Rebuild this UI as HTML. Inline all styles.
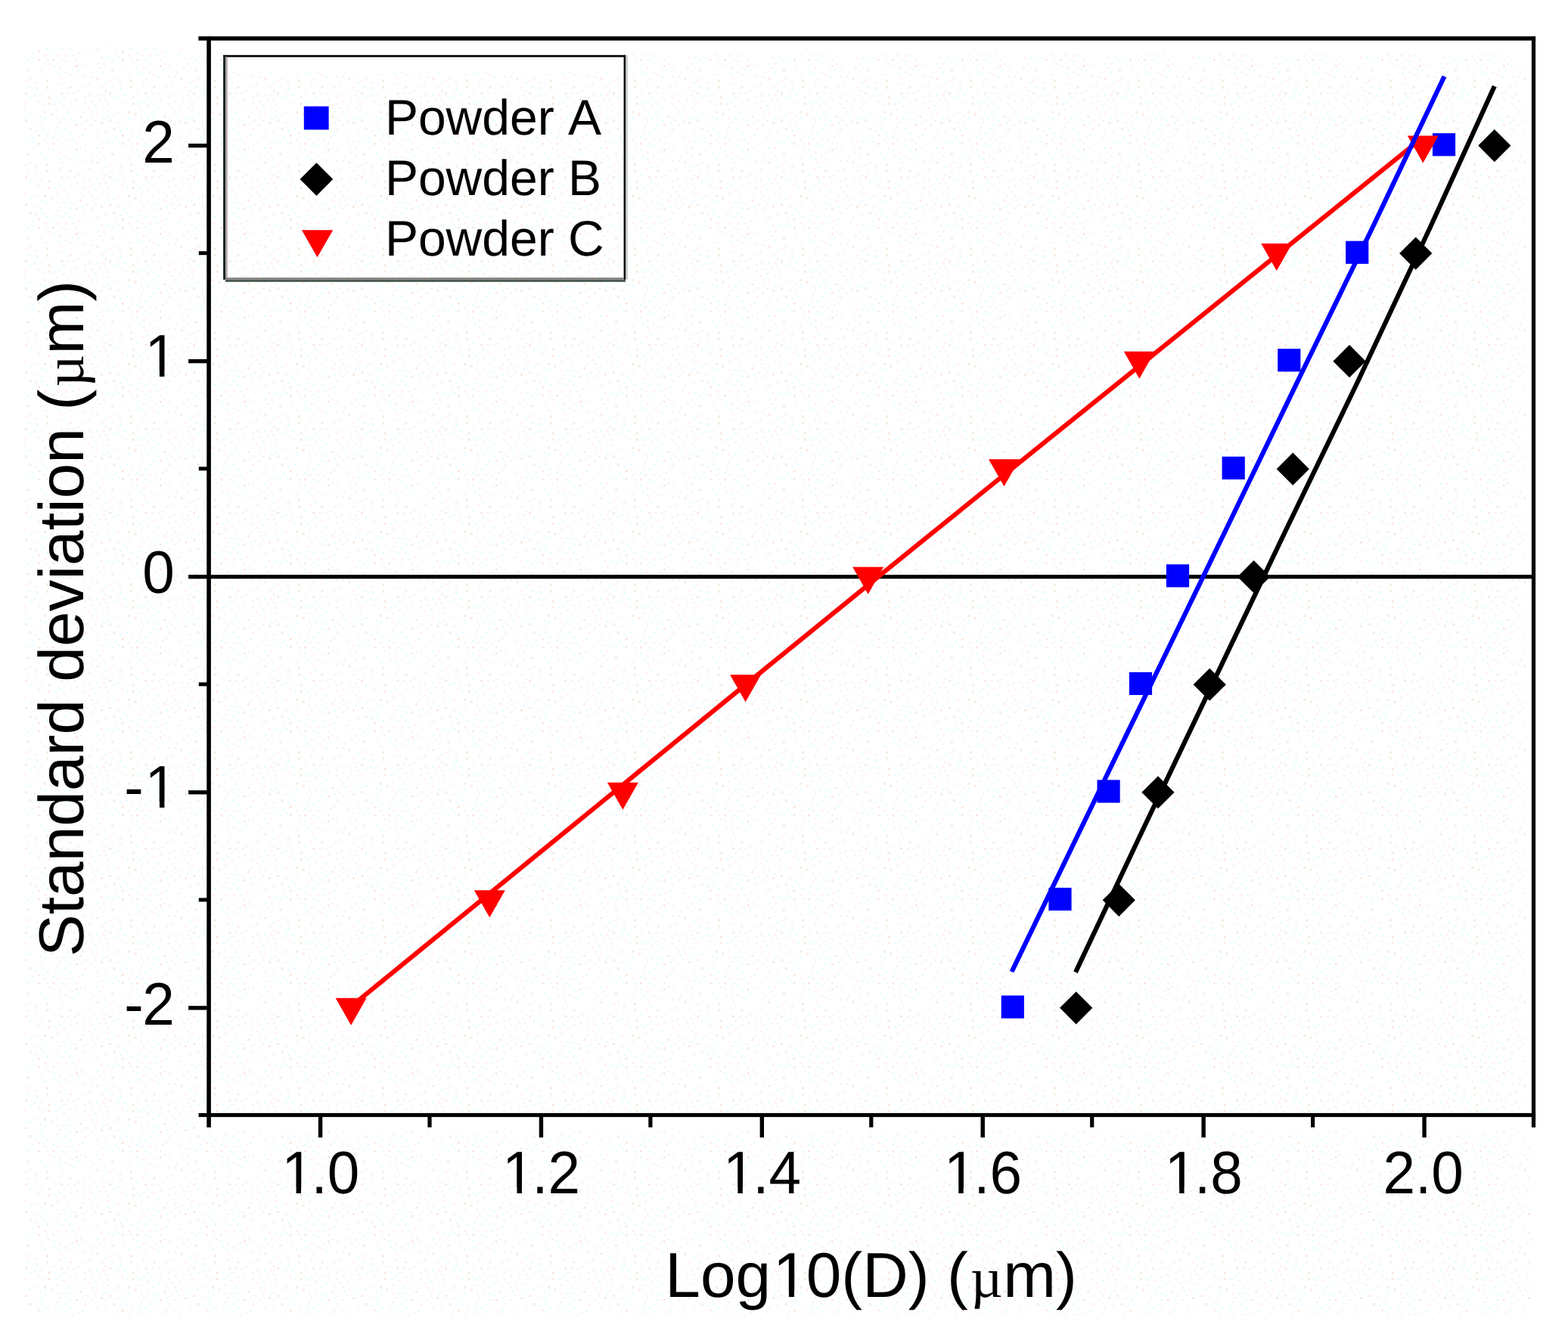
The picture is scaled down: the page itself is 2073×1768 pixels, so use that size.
<!DOCTYPE html>
<html lang="en"><head><meta charset="utf-8"><title>Standard deviation vs Log10(D)</title>
<style>
html,body{margin:0;padding:0;background:#fff;}
body{width:2073px;height:1768px;overflow:hidden;}
svg{display:block;}
text{font-family:"Liberation Sans",sans-serif;fill:#000;font-kerning:none;text-rendering:geometricPrecision;}
.tk{font-size:76.5px;}
.ti{font-size:83.8px;}
.lg{font-size:66px;}
.mu{font-family:"Liberation Serif",serif;font-size:74px;}
</style></head><body>
<svg width="2073" height="1768" viewBox="0 0 2073 1768" role="img">
<desc>Standard deviation (μm) versus Log10(D) (μm) for Powder A, Powder B and Powder C</desc>
<defs><pattern id="d" width="111" height="111" patternUnits="userSpaceOnUse">
<rect x="0.00" y="16.65" width="2.77" height="2.77" fill="#fcf0f8"/>
<rect x="0.00" y="24.97" width="2.77" height="2.77" fill="#fcf0f8"/>
<rect x="0.00" y="58.27" width="2.77" height="2.77" fill="#fcf0f8"/>
<rect x="0.00" y="86.02" width="2.77" height="2.77" fill="#e7fdfd"/>
<rect x="0.00" y="99.90" width="2.77" height="2.77" fill="#fcf0f8"/>
<rect x="2.77" y="47.17" width="2.77" height="2.77" fill="#fcf0f8"/>
<rect x="5.55" y="0.00" width="2.77" height="2.77" fill="#fcf0f8"/>
<rect x="5.55" y="13.88" width="2.77" height="2.77" fill="#fcf0f8"/>
<rect x="5.55" y="30.52" width="2.77" height="2.77" fill="#fcf0f8"/>
<rect x="8.32" y="22.20" width="2.77" height="2.77" fill="#fcf0f8"/>
<rect x="8.32" y="36.07" width="2.77" height="2.77" fill="#fcf0f8"/>
<rect x="8.32" y="52.73" width="2.77" height="2.77" fill="#fcf0f8"/>
<rect x="8.32" y="99.90" width="2.77" height="2.77" fill="#fcf0f8"/>
<rect x="11.10" y="41.62" width="2.77" height="2.77" fill="#e7fdfd"/>
<rect x="11.10" y="94.35" width="2.77" height="2.77" fill="#fcf0f8"/>
<rect x="13.88" y="27.75" width="2.77" height="2.77" fill="#e7fdfd"/>
<rect x="13.88" y="47.17" width="2.77" height="2.77" fill="#fcf0f8"/>
<rect x="13.88" y="69.38" width="2.77" height="2.77" fill="#e7fdfd"/>
<rect x="16.65" y="13.88" width="2.77" height="2.77" fill="#e7fdfd"/>
<rect x="16.65" y="38.85" width="2.77" height="2.77" fill="#fcf0f8"/>
<rect x="16.65" y="63.82" width="2.77" height="2.77" fill="#fcf0f8"/>
<rect x="16.65" y="83.25" width="2.77" height="2.77" fill="#e7fdfd"/>
<rect x="16.65" y="102.67" width="2.77" height="2.77" fill="#f5e9dd"/>
<rect x="19.43" y="19.43" width="2.77" height="2.77" fill="#fcf0f8"/>
<rect x="19.43" y="88.80" width="2.77" height="2.77" fill="#fcf0f8"/>
<rect x="22.20" y="2.77" width="2.77" height="2.77" fill="#fcf0f8"/>
<rect x="22.20" y="49.95" width="2.77" height="2.77" fill="#f5e9dd"/>
<rect x="22.20" y="74.92" width="2.77" height="2.77" fill="#fcf0f8"/>
<rect x="24.97" y="13.88" width="2.77" height="2.77" fill="#fcf0f8"/>
<rect x="24.97" y="30.52" width="2.77" height="2.77" fill="#e7fdfd"/>
<rect x="24.97" y="44.40" width="2.77" height="2.77" fill="#e7fdfd"/>
<rect x="24.97" y="83.25" width="2.77" height="2.77" fill="#fcf0f8"/>
<rect x="24.97" y="94.35" width="2.77" height="2.77" fill="#e7fdfd"/>
<rect x="27.75" y="8.32" width="2.77" height="2.77" fill="#fcf0f8"/>
<rect x="27.75" y="19.43" width="2.77" height="2.77" fill="#fcf0f8"/>
<rect x="27.75" y="61.05" width="2.77" height="2.77" fill="#fcf0f8"/>
<rect x="27.75" y="108.22" width="2.77" height="2.77" fill="#e7fdfd"/>
<rect x="30.52" y="24.97" width="2.77" height="2.77" fill="#fcf0f8"/>
<rect x="30.52" y="33.30" width="2.77" height="2.77" fill="#fcf0f8"/>
<rect x="30.52" y="41.62" width="2.77" height="2.77" fill="#e7fdfd"/>
<rect x="30.52" y="74.92" width="2.77" height="2.77" fill="#e7fdfd"/>
<rect x="33.30" y="11.10" width="2.77" height="2.77" fill="#f5e9dd"/>
<rect x="33.30" y="47.17" width="2.77" height="2.77" fill="#f5e9dd"/>
<rect x="33.30" y="105.45" width="2.77" height="2.77" fill="#fcf0f8"/>
<rect x="36.07" y="2.77" width="2.77" height="2.77" fill="#e7fdfd"/>
<rect x="36.07" y="77.70" width="2.77" height="2.77" fill="#e7fdfd"/>
<rect x="36.07" y="91.58" width="2.77" height="2.77" fill="#f5e9dd"/>
<rect x="38.85" y="16.65" width="2.77" height="2.77" fill="#e7fdfd"/>
<rect x="38.85" y="38.85" width="2.77" height="2.77" fill="#e7fdfd"/>
<rect x="38.85" y="58.27" width="2.77" height="2.77" fill="#f5e9dd"/>
<rect x="38.85" y="102.67" width="2.77" height="2.77" fill="#fcf0f8"/>
<rect x="41.62" y="69.38" width="2.77" height="2.77" fill="#e7fdfd"/>
<rect x="44.40" y="13.88" width="2.77" height="2.77" fill="#e7fdfd"/>
<rect x="44.40" y="36.07" width="2.77" height="2.77" fill="#fcf0f8"/>
<rect x="44.40" y="49.95" width="2.77" height="2.77" fill="#fcf0f8"/>
<rect x="44.40" y="74.92" width="2.77" height="2.77" fill="#e7fdfd"/>
<rect x="47.17" y="5.55" width="2.77" height="2.77" fill="#e7fdfd"/>
<rect x="47.17" y="61.05" width="2.77" height="2.77" fill="#e7fdfd"/>
<rect x="47.17" y="108.22" width="2.77" height="2.77" fill="#fcf0f8"/>
<rect x="49.95" y="22.20" width="2.77" height="2.77" fill="#fcf0f8"/>
<rect x="49.95" y="66.60" width="2.77" height="2.77" fill="#f5e9dd"/>
<rect x="49.95" y="77.70" width="2.77" height="2.77" fill="#f5e9dd"/>
<rect x="52.73" y="13.88" width="2.77" height="2.77" fill="#e7fdfd"/>
<rect x="52.73" y="41.62" width="2.77" height="2.77" fill="#e7fdfd"/>
<rect x="52.73" y="52.73" width="2.77" height="2.77" fill="#e7fdfd"/>
<rect x="52.73" y="91.58" width="2.77" height="2.77" fill="#e7fdfd"/>
<rect x="55.50" y="24.97" width="2.77" height="2.77" fill="#e7fdfd"/>
<rect x="55.50" y="58.27" width="2.77" height="2.77" fill="#e7fdfd"/>
<rect x="58.27" y="36.07" width="2.77" height="2.77" fill="#f5e9dd"/>
<rect x="58.27" y="44.40" width="2.77" height="2.77" fill="#e7fdfd"/>
<rect x="58.27" y="72.15" width="2.77" height="2.77" fill="#fcf0f8"/>
<rect x="58.27" y="97.12" width="2.77" height="2.77" fill="#e7fdfd"/>
<rect x="61.05" y="2.77" width="2.77" height="2.77" fill="#f5e9dd"/>
<rect x="61.05" y="63.82" width="2.77" height="2.77" fill="#e7fdfd"/>
<rect x="61.05" y="77.70" width="2.77" height="2.77" fill="#e7fdfd"/>
<rect x="61.05" y="105.45" width="2.77" height="2.77" fill="#f5e9dd"/>
<rect x="63.82" y="16.65" width="2.77" height="2.77" fill="#f5e9dd"/>
<rect x="63.82" y="24.97" width="2.77" height="2.77" fill="#f5e9dd"/>
<rect x="63.82" y="83.25" width="2.77" height="2.77" fill="#fcf0f8"/>
<rect x="66.60" y="38.85" width="2.77" height="2.77" fill="#f5e9dd"/>
<rect x="69.38" y="8.32" width="2.77" height="2.77" fill="#e7fdfd"/>
<rect x="69.38" y="69.38" width="2.77" height="2.77" fill="#e7fdfd"/>
<rect x="69.38" y="77.70" width="2.77" height="2.77" fill="#f5e9dd"/>
<rect x="69.38" y="86.02" width="2.77" height="2.77" fill="#e7fdfd"/>
<rect x="72.15" y="24.97" width="2.77" height="2.77" fill="#e7fdfd"/>
<rect x="72.15" y="61.05" width="2.77" height="2.77" fill="#e7fdfd"/>
<rect x="72.15" y="94.35" width="2.77" height="2.77" fill="#e7fdfd"/>
<rect x="74.92" y="33.30" width="2.77" height="2.77" fill="#fcf0f8"/>
<rect x="74.92" y="44.40" width="2.77" height="2.77" fill="#fcf0f8"/>
<rect x="74.92" y="55.50" width="2.77" height="2.77" fill="#fcf0f8"/>
<rect x="74.92" y="72.15" width="2.77" height="2.77" fill="#fcf0f8"/>
<rect x="77.70" y="0.00" width="2.77" height="2.77" fill="#fcf0f8"/>
<rect x="77.70" y="22.20" width="2.77" height="2.77" fill="#e7fdfd"/>
<rect x="77.70" y="49.95" width="2.77" height="2.77" fill="#fcf0f8"/>
<rect x="77.70" y="88.80" width="2.77" height="2.77" fill="#fcf0f8"/>
<rect x="77.70" y="97.12" width="2.77" height="2.77" fill="#e7fdfd"/>
<rect x="80.47" y="11.10" width="2.77" height="2.77" fill="#f5e9dd"/>
<rect x="80.47" y="63.82" width="2.77" height="2.77" fill="#e7fdfd"/>
<rect x="80.47" y="77.70" width="2.77" height="2.77" fill="#e7fdfd"/>
<rect x="80.47" y="102.67" width="2.77" height="2.77" fill="#fcf0f8"/>
<rect x="83.25" y="16.65" width="2.77" height="2.77" fill="#e7fdfd"/>
<rect x="83.25" y="27.75" width="2.77" height="2.77" fill="#fcf0f8"/>
<rect x="83.25" y="44.40" width="2.77" height="2.77" fill="#e7fdfd"/>
<rect x="83.25" y="108.22" width="2.77" height="2.77" fill="#e7fdfd"/>
<rect x="86.02" y="58.27" width="2.77" height="2.77" fill="#e7fdfd"/>
<rect x="86.02" y="72.15" width="2.77" height="2.77" fill="#fcf0f8"/>
<rect x="86.02" y="80.47" width="2.77" height="2.77" fill="#e7fdfd"/>
<rect x="86.02" y="94.35" width="2.77" height="2.77" fill="#fcf0f8"/>
<rect x="88.80" y="11.10" width="2.77" height="2.77" fill="#fcf0f8"/>
<rect x="88.80" y="36.07" width="2.77" height="2.77" fill="#e7fdfd"/>
<rect x="91.58" y="2.77" width="2.77" height="2.77" fill="#f5e9dd"/>
<rect x="91.58" y="22.20" width="2.77" height="2.77" fill="#fcf0f8"/>
<rect x="91.58" y="44.40" width="2.77" height="2.77" fill="#e7fdfd"/>
<rect x="91.58" y="52.73" width="2.77" height="2.77" fill="#e7fdfd"/>
<rect x="91.58" y="63.82" width="2.77" height="2.77" fill="#e7fdfd"/>
<rect x="91.58" y="97.12" width="2.77" height="2.77" fill="#fcf0f8"/>
<rect x="94.35" y="72.15" width="2.77" height="2.77" fill="#e7fdfd"/>
<rect x="94.35" y="88.80" width="2.77" height="2.77" fill="#e7fdfd"/>
<rect x="97.12" y="11.10" width="2.77" height="2.77" fill="#fcf0f8"/>
<rect x="97.12" y="30.52" width="2.77" height="2.77" fill="#e7fdfd"/>
<rect x="97.12" y="47.17" width="2.77" height="2.77" fill="#e7fdfd"/>
<rect x="97.12" y="99.90" width="2.77" height="2.77" fill="#e7fdfd"/>
<rect x="99.90" y="19.43" width="2.77" height="2.77" fill="#fcf0f8"/>
<rect x="99.90" y="52.73" width="2.77" height="2.77" fill="#f5e9dd"/>
<rect x="99.90" y="77.70" width="2.77" height="2.77" fill="#fcf0f8"/>
<rect x="99.90" y="86.02" width="2.77" height="2.77" fill="#f5e9dd"/>
<rect x="102.67" y="8.32" width="2.77" height="2.77" fill="#fcf0f8"/>
<rect x="102.67" y="69.38" width="2.77" height="2.77" fill="#fcf0f8"/>
<rect x="102.67" y="91.58" width="2.77" height="2.77" fill="#e7fdfd"/>
<rect x="105.45" y="41.62" width="2.77" height="2.77" fill="#f5e9dd"/>
<rect x="105.45" y="83.25" width="2.77" height="2.77" fill="#fcf0f8"/>
<rect x="108.22" y="2.77" width="2.77" height="2.77" fill="#fcf0f8"/>
<rect x="108.22" y="36.07" width="2.77" height="2.77" fill="#e7fdfd"/>
<rect x="108.22" y="49.95" width="2.77" height="2.77" fill="#e7fdfd"/>
<rect x="108.22" y="66.60" width="2.77" height="2.77" fill="#e7fdfd"/>
</pattern></defs>
<rect x="0" y="0" width="2073" height="1768" fill="#fff"/>
<rect x="32" y="62" width="230" height="1677" fill="url(#d)"/>
<rect x="262" y="72" width="1755" height="1667" fill="url(#d)"/>
<rect x="2017" y="1497" width="8" height="242" fill="url(#d)"/>
<rect x="262" y="1477" width="1768" height="19.5" fill="#fff"/>
<rect x="300.8" y="75.4" width="524" height="18.6" fill="#fff"/>
<g fill="#000">
<rect x="262.40" y="48.10" width="1767.70" height="5.50"/>
<rect x="262.60" y="1471.90" width="1767.50" height="5.20"/>
<rect x="273.30" y="48.10" width="5.60" height="1442.70"/>
<rect x="2024.90" y="48.10" width="5.20" height="1442.70"/>
<rect x="276.00" y="760.10" width="1751.00" height="5.20"/>
<rect x="249.1" y="189.91" width="27" height="5.3"/>
<rect x="249.1" y="474.98" width="27" height="5.3"/>
<rect x="249.1" y="760.05" width="27" height="5.3"/>
<rect x="249.1" y="1045.12" width="27" height="5.3"/>
<rect x="249.1" y="1330.19" width="27" height="5.3"/>
<rect x="262.8" y="332.20" width="13" height="5"/>
<rect x="262.8" y="617.27" width="13" height="5"/>
<rect x="262.8" y="902.34" width="13" height="5"/>
<rect x="262.8" y="1187.40" width="13" height="5"/>
<rect x="420.85" y="1474" width="5.4" height="30.2"/>
<rect x="565.40" y="1474" width="5.2" height="16.7"/>
<rect x="712.75" y="1474" width="5.4" height="30.2"/>
<rect x="857.30" y="1474" width="5.2" height="16.7"/>
<rect x="1004.65" y="1474" width="5.4" height="30.2"/>
<rect x="1149.20" y="1474" width="5.2" height="16.7"/>
<rect x="1296.55" y="1474" width="5.4" height="30.2"/>
<rect x="1441.10" y="1474" width="5.2" height="16.7"/>
<rect x="1588.45" y="1474" width="5.4" height="30.2"/>
<rect x="1733.00" y="1474" width="5.2" height="16.7"/>
<rect x="1880.35" y="1474" width="5.4" height="30.2"/>
</g>
<defs>
<clipPath id="f0" clipPathUnits="userSpaceOnUse"><path clip-rule="evenodd" d="M-900,-300H1500V300H-900ZM7.63,-7.32H22.69V3.00H7.63ZM29.15,-7.32H43.61V3.00H29.15Z"/></clipPath>
<clipPath id="f1" clipPathUnits="userSpaceOnUse"><path clip-rule="evenodd" d="M-900,-300H1500V300H-900ZM33.10,-7.32H48.16V3.00H33.10ZM54.62,-7.32H69.09V3.00H54.62Z"/></clipPath>
<clipPath id="f2" clipPathUnits="userSpaceOnUse"><path clip-rule="evenodd" d="M-900,-300H1500V300H-900ZM147.30,-7.86H163.64V3.00H147.30ZM170.75,-7.86H186.43V3.00H170.75Z"/></clipPath>
</defs>
<text class="tk" transform="translate(188.25,214.66) scale(1,1.04)">2</text>
<text class="tk" clip-path="url(#f0)" transform="translate(188.25,498.03) scale(1,1.04)" dx="3.3">1</text>
<text class="tk" transform="translate(188.25,783.60) scale(1,1.04)">0</text>
<text class="tk" clip-path="url(#f1)" transform="translate(162.78,1068.07) scale(1,1.04)" dx="1.5 1.8">-1</text>
<text class="tk" transform="translate(162.78,1354.54) scale(1,1.04)" dx="1.5 -1.5">-2</text>
<text class="tk" clip-path="url(#f0)" transform="translate(368.88,1578.2) scale(1,1.04)" dx="3.3 -3.3">1.0</text>
<text class="tk" clip-path="url(#f0)" transform="translate(660.78,1578.2) scale(1,1.04)" dx="3.3 -3.3">1.2</text>
<text class="tk" clip-path="url(#f0)" transform="translate(952.68,1578.2) scale(1,1.04)" dx="3.3 -3.3">1.4</text>
<text class="tk" clip-path="url(#f0)" transform="translate(1244.58,1578.2) scale(1,1.04)" dx="3.3 -3.3">1.6</text>
<text class="tk" clip-path="url(#f0)" transform="translate(1536.48,1578.2) scale(1,1.04)" dx="3.3 -3.3">1.8</text>
<text class="tk" transform="translate(1828.38,1578.2) scale(1,1.04)">2.0</text>
<text class="ti" clip-path="url(#f2)" transform="translate(879.3,1715)" dx="0 0 0 2.6 -2.6 0 0 0 0 0 3.2 0.6">Log10(D) (<tspan class="mu">µ</tspan>m)</text>
<text class="ti" transform="translate(110,1265.1) rotate(-90)" dx="0 0 0 0 0 0 0 0 0 0 0 0 0 0 0 0 0 0 0 0 3.2 0.6">Standard deviation (<tspan class="mu">µ</tspan>m)</text>
<rect x="1323.70" y="1316.44" width="30.20" height="30.20" fill="#0000ff"/>
<rect x="1386.40" y="1173.91" width="30.20" height="30.20" fill="#0000ff"/>
<rect x="1450.50" y="1031.37" width="30.20" height="30.20" fill="#0000ff"/>
<rect x="1492.90" y="888.84" width="30.20" height="30.20" fill="#0000ff"/>
<rect x="1541.90" y="746.30" width="30.20" height="30.20" fill="#0000ff"/>
<rect x="1615.60" y="603.77" width="30.20" height="30.20" fill="#0000ff"/>
<rect x="1689.20" y="461.23" width="30.20" height="30.20" fill="#0000ff"/>
<rect x="1779.10" y="318.69" width="30.20" height="30.20" fill="#0000ff"/>
<rect x="1893.90" y="176.16" width="30.20" height="30.20" fill="#0000ff"/>
<polygon points="1401.10,1332.84 1422.70,1311.24 1444.30,1332.84 1422.70,1354.44" fill="#000"/>
<polygon points="1457.70,1190.31 1479.30,1168.71 1500.90,1190.31 1479.30,1211.90" fill="#000"/>
<polygon points="1509.40,1047.77 1531.00,1026.17 1552.60,1047.77 1531.00,1069.37" fill="#000"/>
<polygon points="1577.60,905.24 1599.20,883.63 1620.80,905.24 1599.20,926.84" fill="#000"/>
<polygon points="1636.00,762.70 1657.60,741.10 1679.20,762.70 1657.60,784.30" fill="#000"/>
<polygon points="1687.70,620.17 1709.30,598.57 1730.90,620.17 1709.30,641.77" fill="#000"/>
<polygon points="1762.40,477.63 1784.00,456.03 1805.60,477.63 1784.00,499.23" fill="#000"/>
<polygon points="1850.10,335.10 1871.70,313.50 1893.30,335.10 1871.70,356.70" fill="#000"/>
<polygon points="1954.20,192.56 1975.80,170.96 1997.40,192.56 1975.80,214.16" fill="#000"/>
<polyline points="464,1331 740,1105.8 1060,844.8 1214.4,719.3 1380,585.7 1640,376.2 1881.3,181.7" fill="none" stroke="#ff0000" stroke-width="6.1" stroke-linejoin="round"/>
<polygon points="443.60,1319.84 484.60,1319.84 464.10,1355.84" fill="#ff0000"/>
<polygon points="626.80,1177.31 667.80,1177.31 647.30,1213.31" fill="#ff0000"/>
<polygon points="802.90,1034.77 843.90,1034.77 823.40,1070.77" fill="#ff0000"/>
<polygon points="965.10,892.24 1006.10,892.24 985.60,928.24" fill="#ff0000"/>
<polygon points="1127.20,749.70 1168.20,749.70 1147.70,785.70" fill="#ff0000"/>
<polygon points="1307.00,607.17 1348.00,607.17 1327.50,643.17" fill="#ff0000"/>
<polygon points="1485.80,464.63 1526.80,464.63 1506.30,500.63" fill="#ff0000"/>
<polygon points="1667.30,322.10 1708.30,322.10 1687.80,358.10" fill="#ff0000"/>
<polygon points="1860.80,179.56 1901.80,179.56 1881.30,215.56" fill="#ff0000"/>
<polyline points="1337.6,1285 1427,1100 1621,700 1717.6,500 1815,300 1909.5,101" fill="none" stroke="#0000ff" stroke-width="6.2" stroke-linejoin="round"/>
<polyline points="1422,1285.6 1509.6,1100 1700.5,700 1792.5,510 1891.1,300 1975.8,114" fill="none" stroke="#000" stroke-width="6.2" stroke-linejoin="round"/>
<g>
<rect x="295.1" y="72.8" width="531.9" height="297" fill="none"/>
<rect x="295.1" y="72.8" width="531.9" height="2.7" fill="#000"/>
<rect x="295.1" y="72.8" width="2.9" height="297" fill="#142222"/>
<rect x="298" y="75.5" width="2.8" height="291.5" fill="#b4a8a8"/>
<rect x="824.6" y="72.8" width="2.4" height="297" fill="#000"/>
<rect x="827" y="73" width="2.7" height="296.8" fill="#c4c8c4"/>
<rect x="298" y="367" width="526.6" height="2.8" fill="#8a8884"/>
<rect x="298" y="369.8" width="529" height="3" fill="#4a584e"/>
<rect x="401.8" y="140.6" width="32.8" height="30.9" fill="#0000ff"/>
<polygon points="396.60,237.10 418.40,215.30 440.20,237.10 418.40,258.90" fill="#000"/>
<polygon points="398.9,304.3 440.2,304.3 419.5,340.2" fill="#ff0000"/>
<text class="lg" x="508.9" y="178.0">Powder A</text>
<text class="lg" x="508.9" y="257.7">Powder B</text>
<text class="lg" x="508.9" y="338.2">Powder C</text>
</g>
</svg></body></html>
